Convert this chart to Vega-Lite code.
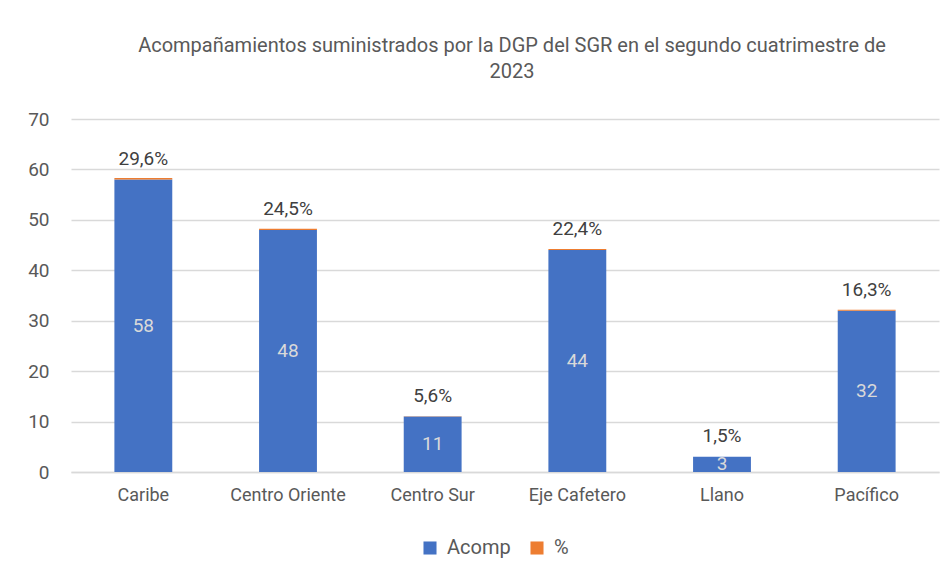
{
  "$schema": "https://vega.github.io/schema/vega-lite/v6.json",
  "autosize": "none",
  "width": 868,
  "height": 353,
  "padding": {"left": 71, "top": 119, "right": 13, "bottom": 108},
  "background": "white",
  "config": {
    "font": "Roboto",
    "view": {"stroke": null},
    "locale": {"number": {"decimal": ",", "thousands": ".", "grouping": [3], "currency": ["$", ""]}}
  },
  "title": {
    "text": ["Acompañamientos suministrados por la DGP del SGR en el segundo cuatrimestre de", "2023"],
    "font": "Roboto",
    "fontSize": 20,
    "fontWeight": "normal",
    "color": "#595959",
    "lineHeight": 26,
    "offset": 28,
    "dx": 7
  },
  "data": {
    "values": [
      {"region": "Caribe", "Acomp": 58, "%": 0.296},
      {"region": "Centro Oriente", "Acomp": 48, "%": 0.245},
      {"region": "Centro Sur", "Acomp": 11, "%": 0.056},
      {"region": "Eje Cafetero", "Acomp": 44, "%": 0.224},
      {"region": "Llano", "Acomp": 3, "%": 0.015},
      {"region": "Pacífico", "Acomp": 32, "%": 0.163}
    ]
  },
  "encoding": {
    "x": {
      "field": "region",
      "type": "nominal",
      "sort": null,
      "title": null,
      "scale": {"paddingInner": 0.6, "paddingOuter": 0.3},
      "axis": {
        "labelAngle": 0,
        "labelFontSize": 18,
        "labelColor": "#595959",
        "labelFont": "Roboto",
        "labelPadding": 14,
        "ticks": false,
        "domainColor": "#d9d9d9",
        "domainWidth": 1.5
      }
    }
  },
  "layer": [
    {
      "transform": [{"fold": ["Acomp", "%"], "as": ["serie", "valor"]}],
      "mark": {"type": "bar"},
      "encoding": {
        "y": {
          "field": "valor",
          "type": "quantitative",
          "stack": "zero",
          "title": null,
          "scale": {"domain": [0, 70]},
          "axis": {
            "values": [0, 10, 20, 30, 40, 50, 60, 70],
            "domain": false,
            "ticks": false,
            "gridColor": "#d9d9d9",
            "gridWidth": 1.5,
            "labelFontSize": 19,
            "labelColor": "#595959",
            "labelFont": "Roboto",
            "labelPadding": 22
          }
        },
        "color": {
          "field": "serie",
          "type": "nominal",
          "scale": {"domain": ["Acomp", "%"], "range": ["#4472C4", "#ED7D31"]},
          "legend": {
            "title": null,
            "orient": "none",
            "direction": "horizontal",
            "legendX": 349,
            "legendY": 419,
            "symbolType": "square",
            "symbolSize": 170,
            "symbolStrokeWidth": 0,
            "labelFontSize": 20,
            "labelColor": "#595959",
            "labelFont": "Roboto",
            "columnPadding": 16,
            "labelOffset": 7
          }
        },
        "order": {"field": "serie", "sort": "descending"}
      }
    },
    {
      "mark": {"type": "text", "fontSize": 19, "color": "#d9d9d9", "font": "Roboto"},
      "encoding": {
        "y": {"field": "Acomp", "type": "quantitative", "stack": "zero", "bandPosition": 0.5},
        "text": {"field": "Acomp", "type": "quantitative"}
      }
    },
    {
      "mark": {"type": "text", "fontSize": 19, "color": "#404040", "font": "Roboto", "dy": -21},
      "encoding": {
        "y": {"field": "Acomp", "type": "quantitative"},
        "text": {"field": "%", "type": "quantitative", "format": ".1%"}
      }
    }
  ]
}
